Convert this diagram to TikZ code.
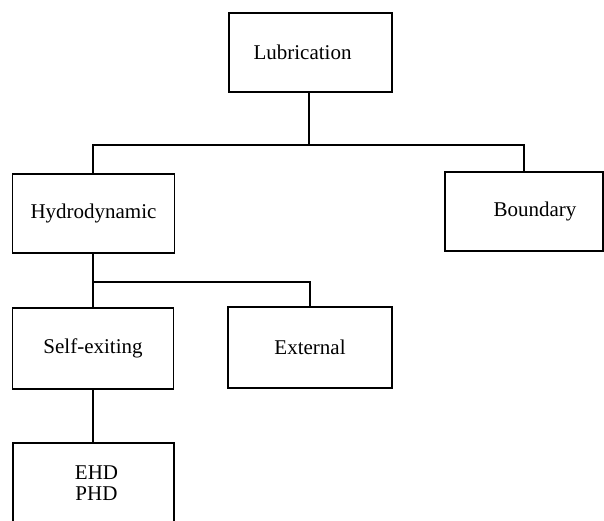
\documentclass[tikz,border=0pt]{standalone}
\usepackage{fontspec}
\setmainfont{Liberation Serif}
\begin{document}
\begin{tikzpicture}[x=1pt,y=-1pt,
  box/.style={draw, line width=1.5pt, rectangle, inner sep=0pt,
    font=\fontsize{21}{21}\selectfont, align=center},
  link/.style={line width=1.3pt}]
\useasboundingbox (0,0) rectangle (604,520);
% tree of lubrication kinds
\node[box, minimum width=163pt, minimum height=79pt,
  label={[font=\fontsize{21}{21}\selectfont, xshift=-8pt]center:Lubrication}]
  (lub) at (310.5,52.5) {};
\node[box, minimum width=162pt, minimum height=79pt] (hyd) at (93.5,213.5) {Hydrodynamic};
\node[box, minimum width=158pt, minimum height=79pt,
  label={[font=\fontsize{21}{21}\selectfont, xshift=11pt]center:Boundary}]
  (bnd) at (524,211.5) {};
\node[box, minimum width=161pt, minimum height=81pt] (sel) at (93,348.5) {Self-exiting};
\node[box, minimum width=164pt, minimum height=81pt] (ext) at (310,347.5) {External};
\node[box, minimum width=161pt, minimum height=84pt,
  label={[font=\fontsize{21}{21}\selectfont, align=center, xshift=3pt, yshift=2pt]center:EHD\\PHD}]
  (ehd) at (93.5,485) {};
% connectors
\coordinate (bus) at (309,145);
\coordinate (bus2) at (93,282);
\draw[link] (lub.south -| bus) -- (bus);
\draw[link] (hyd.north -| bus2) |- (bus) -| (bnd.north);
\draw[link] (hyd.south -| bus2) -- (sel.north -| bus2);
\draw[link] (bus2) -| (ext.north);
\draw[link] (sel.south -| bus2) -- (ehd.north -| bus2);
\end{tikzpicture}
\end{document}
